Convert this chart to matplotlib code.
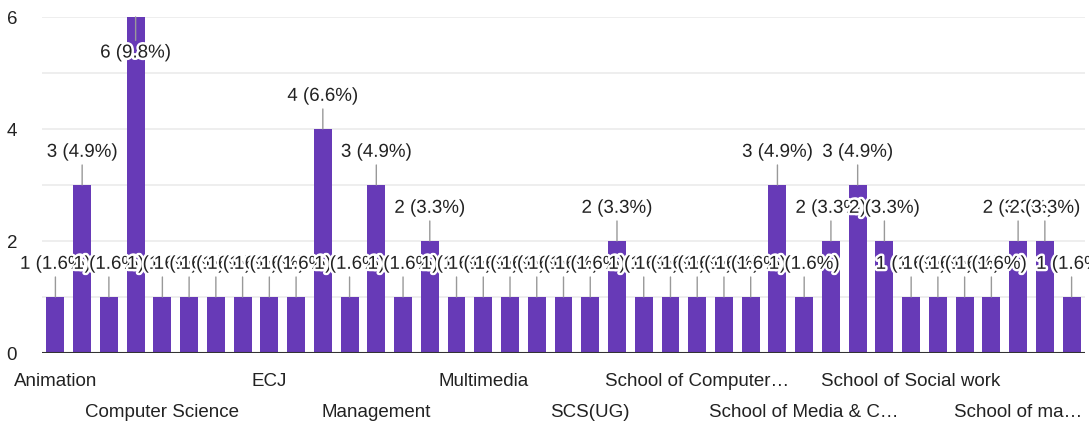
import matplotlib
matplotlib.use('Agg')
import matplotlib.pyplot as plt
import matplotlib.patheffects as pe
import numpy as np

plt.rcParams['font.family'] = ['Liberation Sans', 'DejaVu Sans']

# responses per department (alphabetical order, 39 categories)
COUNTS = [1, 3, 1, 6, 1, 1, 1, 1, 1, 1,
          4, 1, 3, 1, 2, 1, 1, 1, 1, 1,
          1, 2, 1, 1, 1, 1, 1, 3, 1, 2,
          3, 2, 1, 1, 1, 1, 2, 2, 1]
# only every 4th category name is shown on the axis
TICK_POS    = [0, 4, 8, 12, 16, 20, 24, 28, 32, 36]
TICK_LABELS = ['Animation', 'Computer Science', 'ECJ', 'Management', 'Multimedia',
               'SCS(UG)', 'School of Computer…', 'School of Media & C…',
               'School of Social work', 'School of ma…']

BAR_COLOR  = '#673ab7'
TEXT_COLOR = '#222222'
GRID_COLOR = '#ebebeb'

total = sum(COUNTS)
x = np.arange(len(COUNTS))

fig = plt.figure(figsize=(10.89, 4.27), dpi=100)
ax = fig.add_axes([0.0386, 0.171, 0.9577, 0.787])

ax.bar(x, COUNTS, width=0.67, color=BAR_COLOR, zorder=2)

ax.set_xlim(-0.5, len(COUNTS) - 0.5)
ax.set_ylim(0, 6)

# gridlines at every unit, labels only on even values
for g in range(1, 7):
    ax.axhline(g, color=GRID_COLOR, lw=1.2, zorder=0)
ax.axhline(0, color='#333333', lw=1.5, zorder=3)
ax.set_yticks([0, 2, 4, 6])
ax.tick_params(axis='y', length=0, pad=18, labelsize=13.5, labelcolor=TEXT_COLOR)

for side in ['top', 'right', 'left', 'bottom']:
    ax.spines[side].set_visible(False)

ax.set_xticks(TICK_POS)
ax.set_xticklabels(TICK_LABELS, fontsize=13.5, color=TEXT_COLOR)
ax.tick_params(axis='x', length=0)
for k, tick in enumerate(ax.xaxis.get_major_ticks()):
    tick.set_pad(14 if k % 2 == 0 else 36)

halo = [pe.withStroke(linewidth=3.5, foreground='white')]
for i, v in enumerate(COUNTS):
    off = 23.5 if v < 5.5 else -26
    ax.annotate(f'{v} ({v / total * 100:.1f}%)', xy=(i, v),
                xytext=(0, off), textcoords='offset points',
                ha='center', va='center', fontsize=13.5, color=TEXT_COLOR,
                path_effects=halo, zorder=4, annotation_clip=False,
                arrowprops=dict(arrowstyle='-', color='#999999', lw=1,
                                shrinkA=1, shrinkB=0))

fig.savefig('out.png', dpi=100)
